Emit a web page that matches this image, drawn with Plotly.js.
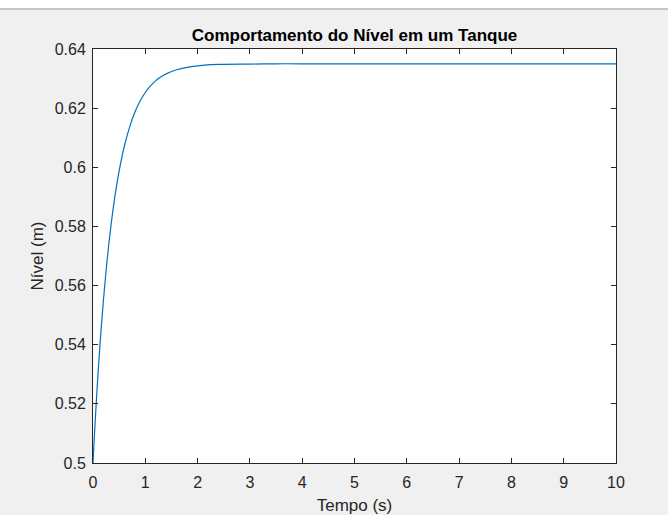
<!DOCTYPE html>
<html>
<head>
<meta charset="utf-8">
<script src="https://cdn.plot.ly/plotly-3.0.1.min.js"></script>
<style>html,body{margin:0;padding:0;background:#F0F0F0;}#chart{width:668px;height:515px;}</style>
</head>
<body>
<div id="chart"></div>
<script>
// Time (s) and level (m)
var tempo = [0, 0.025, 0.05, 0.075, 0.1, 0.15, 0.2, 0.25, 0.3, 0.35, 0.4, 0.45, 0.5, 0.6, 0.7, 0.8, 0.9, 1.0, 1.1, 1.2, 1.3, 1.4, 1.6, 1.8, 2.0, 2.25, 2.5, 3.0, 3.5, 4.0, 5.0, 6.0, 7.0, 8.0, 9.0, 10.0];
var nivel = [0.5, 0.5087, 0.5167, 0.5242, 0.5312, 0.5440, 0.5552, 0.5650, 0.5737, 0.5812, 0.5879, 0.5937, 0.5988, 0.6072, 0.6136, 0.6186, 0.6224, 0.6253, 0.6275, 0.6293, 0.6306, 0.6316, 0.6330, 0.6338, 0.6343, 0.6347, 0.6348, 0.6349, 0.6350, 0.6350, 0.6350, 0.6350, 0.6350, 0.6350, 0.6350, 0.6350];

var xTicks = [0, 1, 2, 3, 4, 5, 6, 7, 8, 9, 10];
var xTickText = ['0', '1', '2', '3', '4', '5', '6', '7', '8', '9', '10'];
var yTicks = [0.5, 0.52, 0.54, 0.56, 0.58, 0.6, 0.62, 0.64];
var yTickText = ['0.5', '0.52', '0.54', '0.56', '0.58', '0.6', '0.62', '0.64'];

var titleText = 'Comportamento do Nível em um Tanque';
var xTitle = 'Tempo (s)';
var yTitle = 'Nível (m)';

var axColor = '#262626';
var font = 'Liberation Sans, Arial, sans-serif';

var trace = {
  x: tempo, y: nivel, type: 'scatter', mode: 'lines',
  line: {color: '#0072BD', width: 1.2, shape: 'spline'},
  hoverinfo: 'skip'
};

var layout = {
  width: 668, height: 515,
  paper_bgcolor: '#F0F0F0', plot_bgcolor: '#FFFFFF',
  margin: {l: 93, r: 52, t: 49, b: 52, pad: 0},
  showlegend: false,
  font: {family: font, color: axColor, size: 16},
  title: {text: '<b>' + titleText + '</b>', font: {family: font, size: 17, color: '#000000'},
          x: 0.5, xref: 'paper', y: 1 - 35/515, yanchor: 'middle'},
  xaxis: {
    range: [0, 10], tickvals: xTicks, ticktext: xTickText,
    ticks: 'inside', ticklen: 5, tickwidth: 1, tickcolor: axColor,
    showline: true, linecolor: axColor, linewidth: 1, mirror: 'ticks',
    showgrid: false, zeroline: false, fixedrange: true,
    ticklabelstandoff: 5,
    tickfont: {family: font, size: 16, color: axColor},
    title: {text: xTitle, font: {family: font, size: 17, color: axColor}, standoff: 8}
  },
  yaxis: {
    range: [0.5, 0.64], tickvals: yTicks, ticktext: yTickText,
    ticks: 'inside', ticklen: 5, tickwidth: 1, tickcolor: axColor,
    showline: true, linecolor: axColor, linewidth: 1, mirror: 'ticks',
    showgrid: false, zeroline: false, fixedrange: true,
    ticklabelstandoff: 3,
    tickfont: {family: font, size: 16, color: axColor},
    title: {text: yTitle, font: {family: font, size: 17, color: axColor}, standoff: 6}
  },
  shapes: [
    {type: 'rect', xref: 'paper', yref: 'paper', x0: -0.2, x1: 1.2, y0: 1 + 40/414, y1: 1 + 49/414 + 0.01,
     fillcolor: '#FFFFFF', line: {width: 0}, layer: 'below'},
    {type: 'line', xref: 'paper', yref: 'paper', x0: -0.2, x1: 1.2, y0: 1 + 40/414, y1: 1 + 40/414,
     line: {color: '#B4B4B4', width: 1.5}}
  ]
};

Plotly.newPlot('chart', [trace], layout, {displayModeBar: false, staticPlot: true});
</script>
</body>
</html>
